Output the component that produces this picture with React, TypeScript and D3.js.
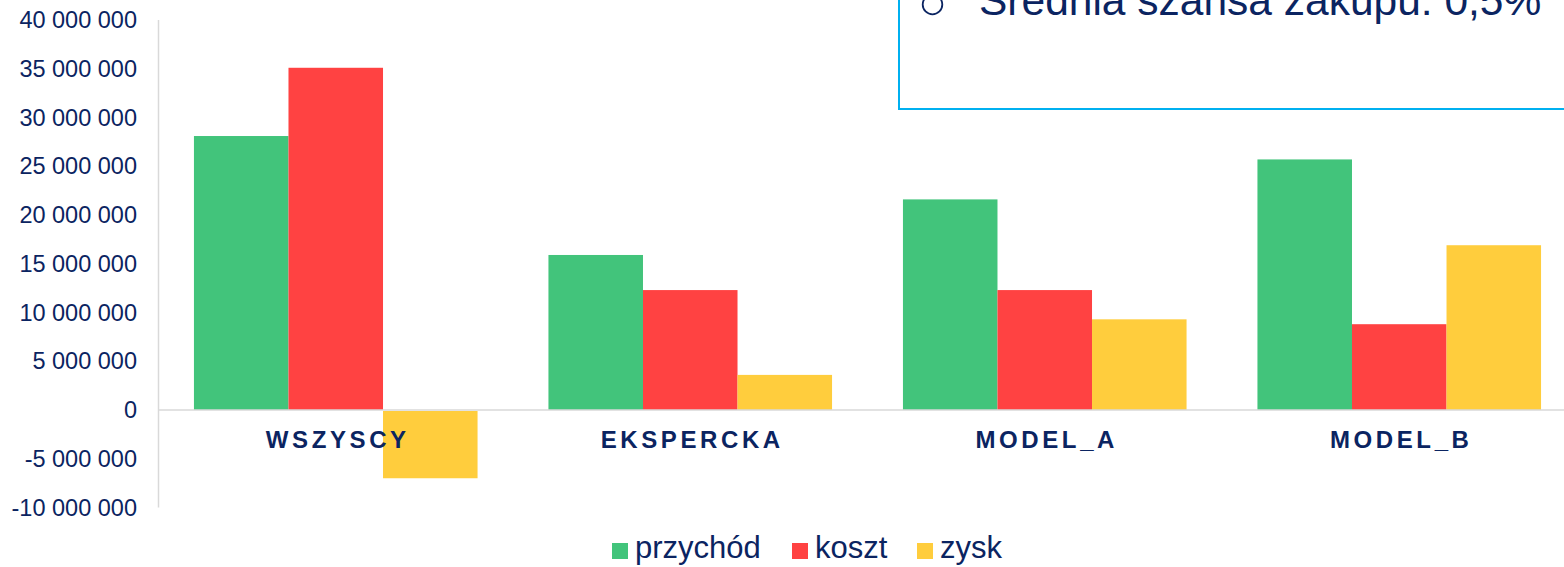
import React from "react";
import * as d3 from "d3";

const categories = ["WSZYSCY", "EKSPERCKA", "MODEL_A", "MODEL_B"];
const seriesNames = ["przychód", "koszt", "zysk"];
const przychod = [28100000, 15900000, 21600000, 25700000];
const koszt = [35100000, 12300000, 12300000, 8800000];
const zysk = [-7000000, 3600000, 9300000, 16900000];
const yTicks = [-10000000, -5000000, 0, 5000000, 10000000, 15000000, 20000000, 25000000, 30000000, 35000000, 40000000];
const colors = ["#42C47B", "#FF4242", "#FFCD3D"];
const noteText = "Średnia szansa zakupu: 0,5%";

const W = 1564;
const H = 567;
const TEXT = "#0B2461";

function fmt(v: number): string {
  const s = d3.format(",")(Math.abs(v)).replace(/,/g, " ");
  return (v < 0 ? "-" : "") + s;
}

export default function App() {
  const series = [przychod, koszt, zysk];
  const x0 = d3.scaleBand<string>().domain(categories).range([158.5, 1576.5]).paddingInner(0.2).paddingOuter(0.1);
  const x1 = d3.scaleBand<string>().domain(seriesNames).range([0, x0.bandwidth()]);
  const y = d3.scaleLinear().domain([-10000000, 40000000]).range([507.5, 20]);
  const color = d3.scaleOrdinal<string, string>().domain(seriesNames).range(colors);

  const legendX = [612, 792, 917];

  return (
    <svg width={W} height={H} style={{ display: "block", position: "absolute", left: 0, top: 0 }} fontFamily="'Liberation Sans', Arial, sans-serif">
      <style>{`body{margin:0}`}</style>
      <rect x={0} y={0} width={W} height={H} fill="#fff" />
      <line x1={158.5} x2={158.5} y1={y(40000000)} y2={y(-10000000)} stroke="#D9D9D9" strokeWidth={1.5} />
      {categories.map((c, i) => (
        <g key={c} transform={`translate(${x0(c)},0)`}>
          {seriesNames.map((s, j) => {
            const v = series[j][i];
            const y0 = y(0);
            const yv = y(v);
            return (
              <rect
                key={s}
                x={x1(s)}
                y={Math.min(y0, yv) + (v < 0 ? 1 : 0)}
                width={x1.bandwidth()}
                height={Math.abs(yv - y0) - (v < 0 ? 1 : 0)}
                fill={color(s)}
              />
            );
          })}
        </g>
      ))}
      <line x1={158} x2={W} y1={y(0)} y2={y(0)} stroke="#D9D9D9" strokeWidth={1.5} />
      {yTicks.map((t) => (
        <text key={t} x={137} y={y(t)} dy="0.35em" textAnchor="end" fontSize={23.5} fill={TEXT}>
          {fmt(t)}
        </text>
      ))}
      {categories.map((c) => (
        <text
          key={c}
          x={(x0(c) as number) + x0.bandwidth() / 2 + 2}
          y={447.5}
          textAnchor="middle"
          fontSize={24}
          fontWeight="bold"
          letterSpacing={3.6}
          fill={TEXT}
        >
          {c}
        </text>
      ))}
      {seriesNames.map((s, j) => (
        <g key={s}>
          <rect x={legendX[j]} y={543} width={16} height={16} fill={color(s)} />
          <text x={legendX[j] + 23} y={558} fontSize={31} fill={TEXT}>
            {s}
          </text>
        </g>
      ))}
      <rect x={899} y={-10} width={720} height={119} fill="#fff" stroke="#00B0F0" strokeWidth={2} />
      <circle cx={932.5} cy={4.5} r={9.8} fill="none" stroke={TEXT} strokeWidth={1.8} />
      <text x={979} y={15} fontSize={42.5} fill={TEXT}>
        {noteText}
      </text>
    </svg>
  );
}
